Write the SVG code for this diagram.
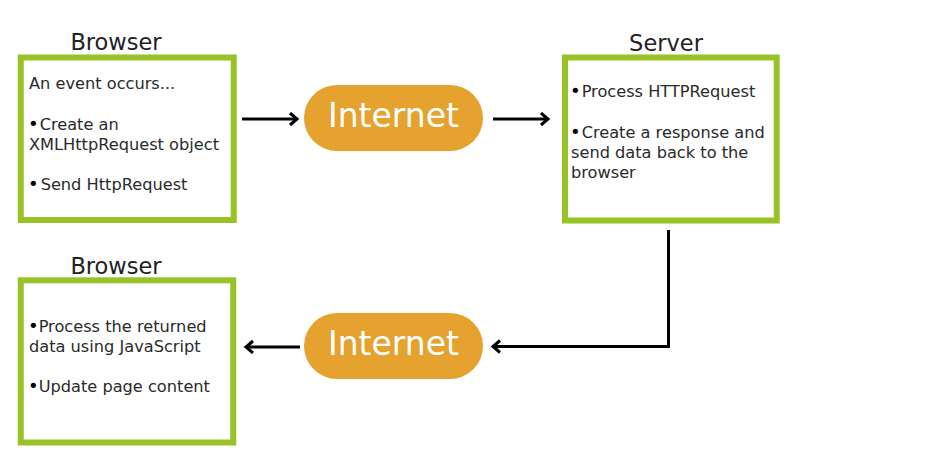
<svg xmlns="http://www.w3.org/2000/svg" width="939" height="470" viewBox="0 0 939 470">
<defs>
<style>
.box{fill:#fff;stroke:#98C225;stroke-width:6}
.pill{fill:#E5A22E}
.title{font-family:"DejaVu Sans",Verdana,sans-serif;font-size:22.5px;fill:#222;text-anchor:middle}
.body{font-family:"DejaVu Sans",Verdana,sans-serif;font-size:16.2px;fill:#2a2a2a}
.b{font-size:18px;fill:#000}
.net{font-family:"DejaVu Sans",Verdana,sans-serif;font-size:33px;fill:#fff;text-anchor:middle}
.conn{fill:none;stroke:#000;stroke-width:3}
</style>
<marker id="ah" markerUnits="userSpaceOnUse" markerWidth="14" markerHeight="16" refX="9" refY="7" orient="auto" viewBox="0 0 14 16">
<path d="M2,1 L9,7 L2,13" fill="none" stroke="#000" stroke-width="3"/>
</marker>
</defs>
<rect width="939" height="470" fill="#fff"/>
<g id="browser1">
<text class="title" x="116" y="50">Browser</text>
<rect class="box" x="20.75" y="57.5" width="213" height="162.5"/>
<text class="body" x="29" y="89">An event occurs...</text>
<text class="body" x="28" y="130"><tspan class="b">•</tspan><tspan dx="1">Create an</tspan></text>
<text class="body" x="29" y="150">XMLHttpRequest object</text>
<text class="body" x="28" y="190"><tspan class="b">•</tspan><tspan dx="2">Send HttpRequest</tspan></text>
</g>
<g id="internet1">
<rect class="pill" x="304" y="85" width="179" height="66" rx="33"/>
<text class="net" x="393.5" y="127">Internet</text>
</g>
<g id="server">
<text class="title" x="666" y="51">Server</text>
<rect class="box" x="565" y="57.5" width="211.7" height="163"/>
<text class="body" x="570" y="97"><tspan class="b">•</tspan><tspan dx="1">Process HTTPRequest</tspan></text>
<text class="body" x="570" y="138"><tspan class="b">•</tspan><tspan dx="1">Create a response and</tspan></text>
<text class="body" x="571" y="158">send data back to the</text>
<text class="body" x="571" y="178">browser</text>
</g>
<g id="internet2">
<rect class="pill" x="304" y="313" width="179" height="66" rx="33"/>
<text class="net" x="393.5" y="355">Internet</text>
</g>
<g id="browser2">
<text class="title" x="116" y="274">Browser</text>
<rect class="box" x="20.75" y="280.3" width="212.5" height="162.2"/>
<text class="body" x="28" y="332"><tspan class="b">•</tspan>Process the returned</text>
<text class="body" x="29" y="352">data using JavaScript</text>
<text class="body" x="28" y="392"><tspan class="b">•</tspan>Update page content</text>
</g>
<g id="connectors">
<path class="conn" d="M242,119 L297,119" marker-end="url(#ah)"/>
<path class="conn" d="M493,119 L548,119" marker-end="url(#ah)"/>
<path class="conn" d="M668.5,230 L668.5,346.5 L493,346.5" marker-end="url(#ah)"/>
<path class="conn" d="M300,347 L246,347" marker-end="url(#ah)"/>
</g>
</svg>
